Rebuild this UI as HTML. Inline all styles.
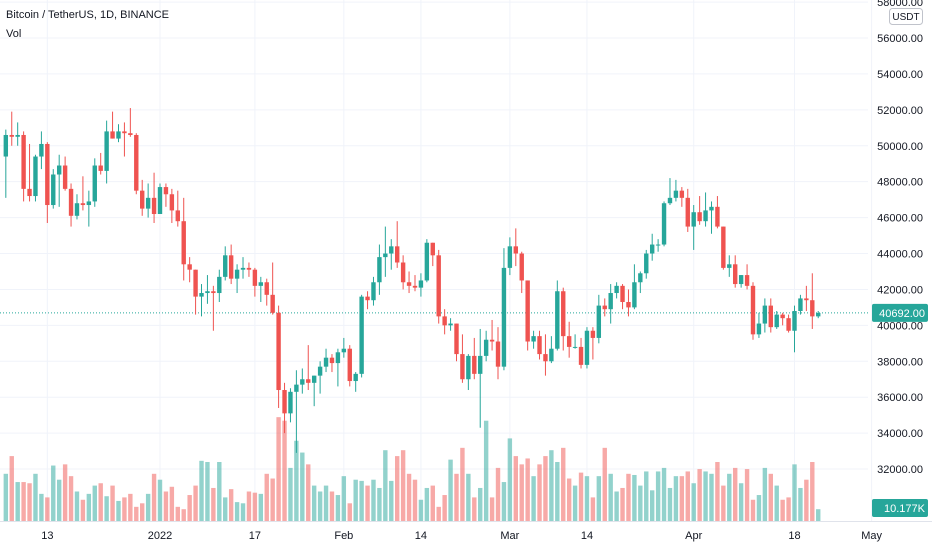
<!DOCTYPE html>
<html><head><meta charset="utf-8"><style>
body{margin:0;background:#fff;font-family:"Liberation Sans",sans-serif}
svg text{font-family:"Liberation Sans",sans-serif}
</style></head><body>
<svg id="c" width="932" height="550" xmlns="http://www.w3.org/2000/svg"></svg>
<script>
const startDate = "2021-12-06";
const opens  = [49400,50600,50500,50600,47600,47200,49400,50100,46700,48400,48900,47600,46100,46800,46700,46900,48900,48600,50800,50400,50800,50700,50600,47500,46500,47100,
46200,47700,47300,46400,45800,43400,43100,41600,41800,41900,41800,42700,43900,42600,43100,43200,43100,42200,42400,41700,40700,36400,35100,36300,36700,37000,36800,37200,37700,38200,37900,
38500,38700,36900,37300,41600,41400,42400,43800,44000,44400,43500,42400,42200,42100,42500,44600,43900,40500,40000,40100,38400,37000,38300,37300,38300,39200,39100,37700,
43200,44400,44000,42500,39100,39400,38400,38000,38700,41900,39400,38800,38800,37800,39700,39300,41100,40900,41800,42200,41300,41000,42400,42900,44000,44500,44500,46800,47100,47500,
47100,45500,46300,45800,46400,46600,45500,43200,43400,42300,42800,42200,39500,40100,41100,39900,40600,40400,39700,40800,41500,41400,40500];
const highs  = [50900,51900,51300,50800,50100,49500,50800,50200,48700,49500,49400,47900,47300,48300,47500,49300,49600,51400,51900,51200,51300,52100,50700,48100,47900,48500,
47900,47900,47600,47500,47100,43800,43100,42300,42800,42200,43100,44400,44500,43400,43800,43500,43200,42700,42600,43500,41100,36800,36500,37500,37600,38900,37200,38000,38700,38400,38700,
39300,38900,37400,41700,41900,42700,44500,45500,44800,45800,43900,43000,42800,42900,44800,44600,44200,40900,40400,40100,39500,38400,39300,39800,39700,40300,39900,44300,
44900,45400,44100,42500,39700,39700,39500,39400,42500,42100,40200,39500,39300,39900,39900,41700,41500,42300,42400,42300,42000,43400,43000,44200,45100,44800,46900,48200,48100,47700,
47600,46700,47200,47400,46900,47200,45500,43900,43900,42800,43400,42400,40700,41500,41500,40800,40700,40600,41100,41700,42200,42900,40800];
const lows   = [47100,50000,50000,46900,46900,46900,48700,45700,46500,46600,47500,45500,45900,46400,45500,46600,48400,47900,50400,50200,49400,50500,47300,46100,46000,45700,
46200,46600,45700,45500,42500,42400,40600,40500,41200,39700,41300,42500,42300,41800,42600,42700,41600,41300,41100,40600,35400,34000,34600,32900,36200,36400,35500,36200,37400,37400,36600,
38200,36600,36300,37100,40900,41100,41700,42700,43100,43200,42000,41800,41900,41600,42400,43300,40100,39500,39700,38000,36800,36400,37000,34300,38000,38600,37000,37500,
42800,43300,41800,38600,38700,38100,37200,37900,38600,38600,38200,38700,37600,37600,38100,39000,40500,40100,41500,40900,40500,40900,41800,42600,43600,44100,44400,46700,46900,46600,
45200,44200,45600,45500,45100,45400,43100,42700,42100,42100,42000,39200,39300,39600,39600,39800,40000,39600,38500,40600,40800,39800,40400];
const closes = [50600,50500,50600,47600,47200,49400,50100,46700,48400,48900,47600,46100,46800,46700,46900,48900,48600,50800,50400,50800,50700,50600,47500,46500,47100,46200,
47700,47300,46400,45800,43400,43100,41600,41800,41900,41800,42700,43900,42600,43100,43200,43100,42200,42400,41700,40700,36400,35100,36300,36700,37000,36800,37200,37700,38200,37900,38500,
38700,36900,37300,41600,41400,42400,43800,44000,44400,43500,42400,42200,42100,42500,44600,43900,40500,40000,40100,38400,37000,38300,37300,38300,39200,39100,37700,43200,
44400,44000,42500,39100,39400,38400,38000,38700,41900,39400,38800,38800,37800,39700,39300,41100,40900,41800,42200,41300,41000,42400,42900,44000,44500,44500,46800,47100,47500,47100,
45500,46300,45800,46400,46600,45500,43200,43400,42300,42800,42200,39500,40100,41100,39900,40600,40400,39700,40800,41500,41400,40500,40692];
const volumes = [40,55,33,33,32,40,23,20,47,35,48,38,25,18,23,30,32,21,30,17,20,23,12,15,23,40,
35,25,29,12,10,22,30,51,50,28,50,20,27,16,15,25,24,23,40,36,88,85,45,68,58,48,30,25,30,25,22,
38,15,35,34,30,35,28,60,34,55,60,40,35,18,28,30,12,22,52,40,62,40,20,28,85,20,45,33,
70,55,48,53,38,48,55,60,50,62,36,30,41,38,20,38,62,40,25,28,40,39,30,42,26,42,45,28,38,38,
42,32,44,42,40,50,30,40,45,32,44,18,22,45,40,30,18,20,48,28,35,50,10];
const priceTicks = [58000,56000,54000,52000,50000,48000,46000,44000,42000,40000,38000,36000,34000,32000];
const timeLabels = ["13","2022","17","Feb","14","Mar","14","Apr","18","May"];
const timeLabelDays = [7,26,42,57,70,85,98,116,133,146];

const NS="http://www.w3.org/2000/svg", svg=document.getElementById('c');
const yP = p => 38 + (56000 - p) / 1000 * 17.96;
const xD = i => 160 + (i - 26) * 5.93;
const volBase = 521, volScale = 1.18;
function mk(t,a,parent){const e=document.createElementNS(NS,t);for(const k in a)e.setAttribute(k,a[k]);(parent||svg).appendChild(e);return e;}

priceTicks.forEach(p=>{const l=mk('line',{x1:0,x2:868,y1:yP(p),y2:yP(p),stroke:'#f0f3fa','stroke-width':1});

});
timeLabelDays.forEach(d=>{const l=mk('line',{x1:xD(d),x2:xD(d),y1:0,y2:521,stroke:'#f0f3fa','stroke-width':1});

});

volumes.forEach((v,i)=>{const up=closes[i]>=opens[i];const h=v*volScale;
const r=mk('rect',{x:xD(i)-2.2,y:volBase-h,width:4.4,height:h,fill:up?'rgba(38,166,154,0.5)':'rgba(239,83,80,0.5)'});

});

const lp=mk('line',{x1:0,x2:868,y1:yP(closes[closes.length-1]),y2:yP(closes[closes.length-1]),stroke:'#26a69a','stroke-width':1,'stroke-dasharray':'1,2'});



opens.forEach((o,i)=>{const c=closes[i],up=c>=o,col=up?'#26a69a':'#ef5350',x=xD(i);
const g=mk('g',{});


mk('line',{x1:x,x2:x,y1:yP(highs[i]),y2:yP(lows[i]),stroke:col,'stroke-width':1},g);
const t=yP(Math.max(o,c)),b=yP(Math.min(o,c));
mk('rect',{x:x-2.2,y:t,width:4.4,height:Math.max(1,b-t),fill:col},g);});

const ax=mk('line',{x1:0,x2:932,y1:521.5,y2:521.5,stroke:'#e0e3eb'});


priceTicks.forEach(p=>{const t=mk('text',{x:923,y:yP(p)+4,'font-size':11,fill:'#131722','text-anchor':'end'});t.textContent=p.toFixed(2);

});
timeLabels.forEach((s,i)=>{const t=mk('text',{x:xD(timeLabelDays[i]),y:539,'font-size':11,fill:'#131722','text-anchor':'middle'});t.textContent=s;

});

const lpy=yP(closes[closes.length-1]);
const pb=mk('rect',{x:872,y:lpy-9,width:56,height:18,fill:'#26a69a',rx:2});


const pt=mk('text',{x:925,y:lpy+4,'font-size':11,fill:'#fff','text-anchor':'end'});pt.textContent=closes[closes.length-1].toFixed(2);


const vb=mk('rect',{x:872,y:499,width:56,height:18,fill:'#26a69a',rx:2});


const vt=mk('text',{x:925,y:512,'font-size':11,fill:'#fff','text-anchor':'end'});vt.textContent='10.177K';


const ub=mk('rect',{x:889.5,y:8.5,width:33,height:16,fill:'#fff',stroke:'#c0c3cb',rx:3});


const ut=mk('text',{x:906,y:20,'font-size':10,fill:'#131722','text-anchor':'middle'});ut.textContent='USDT';



const tt=mk('text',{x:6,y:18,'font-size':11,fill:'#131722'});tt.textContent='Bitcoin / TetherUS, 1D, BINANCE';


const vl=mk('text',{x:6,y:37,'font-size':11,fill:'#131722'});vl.textContent='Vol';


</script>
</body></html>
